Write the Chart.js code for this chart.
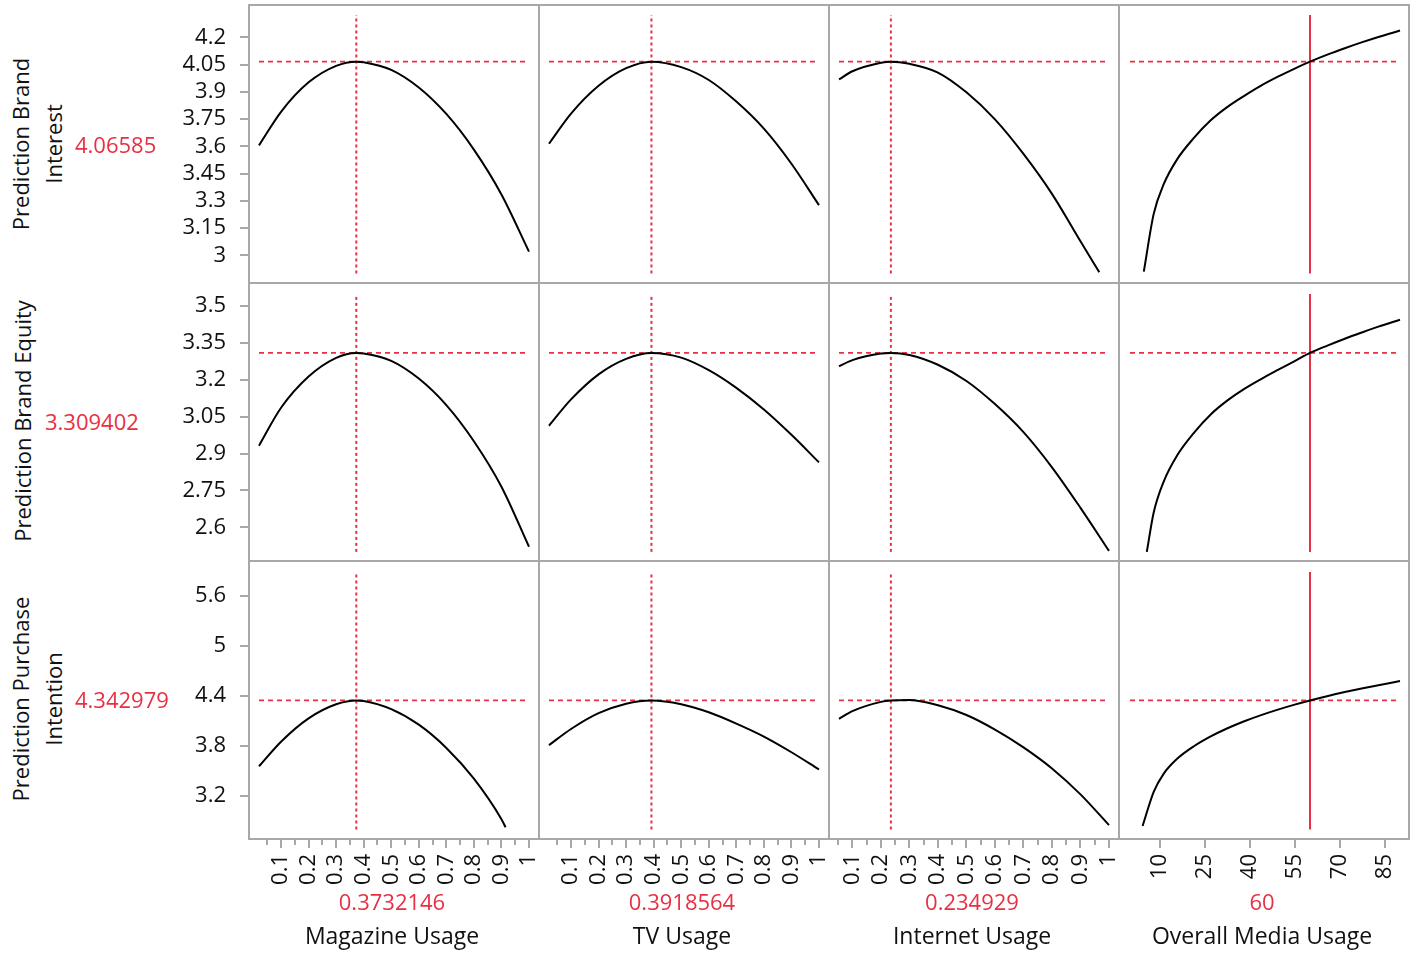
<!DOCTYPE html>
<html><head><meta charset="utf-8">
<script src="https://cdn.jsdelivr.net/npm/chart.js@4.4.1/dist/chart.umd.min.js"></script>
<style>
html,body{margin:0;padding:0;background:#fff;}
body{width:1412px;height:954px;position:relative;overflow:hidden;font-family:"Open Sans",sans-serif;}
canvas{position:absolute;}
.t{position:absolute;white-space:nowrap;font-size:22px;color:#111;line-height:1;}
.red{color:rgb(232,48,68);}
</style></head><body>
<script>
// ---------- factors (x) ----------
const factorNames = ["Magazine Usage","TV Usage","Internet Usage","Overall Media Usage"];
const factorCurrent = [0.3732146, 0.3918564, 0.234929, 60];
const factorCurrentLabels = ["0.3732146","0.3918564","0.234929","60"];
// ---------- responses (y) ----------
const responseNames = [["Prediction Brand","Interest"],["Prediction Brand Equity"],["Prediction Purchase","Intention"]];
const responseCurrent = [4.06585, 3.309402, 4.342979];
const responseCurrentLabels = ["4.06585","3.309402","4.342979"];
// ---------- tick values / labels ----------
const shareTickValues = [0.1,0.2,0.3,0.4,0.5,0.6,0.7,0.8,0.9,1];
const shareTickLabels = ["0.1","0.2","0.3","0.4","0.5","0.6","0.7","0.8","0.9","1"];
const shareMinorTicks = [0.05,0.15,0.25,0.35,0.45,0.55,0.65,0.75,0.85,0.95];
const overallTickValues = [10,25,40,55,70,85];
const overallTickLabels = ["10","25","40","55","70","85"];
const biTickValues = [3,3.15,3.3,3.45,3.6,3.75,3.9,4.05,4.2];
const biTickLabels = ["3","3.15","3.3","3.45","3.6","3.75","3.9","4.05","4.2"];
const beTickValues = [2.6,2.75,2.9,3.05,3.2,3.35,3.5];
const beTickLabels = ["2.6","2.75","2.9","3.05","3.2","3.35","3.5"];
const piTickValues = [3.2,3.8,4.4,5,5.6];
const piTickLabels = ["3.2","3.8","4.4","5","5.6"];
// ---------- profile curves ----------
const magX  = [0.02,0.1,0.2,0.3,0.3732,0.4,0.5,0.6,0.7,0.8,0.9,1.0];
const magBI = [3.605,3.790,3.952,4.043,4.066,4.063,4.021,3.924,3.778,3.582,3.335,3.020];
const magBE = [2.932,3.086,3.213,3.289,3.309,3.307,3.277,3.205,3.097,2.950,2.765,2.521];
const magPIx = [0.02,0.1,0.2,0.3,0.3732,0.4,0.5,0.6,0.7,0.8,0.9,0.915];
const magPI = [3.553,3.848,4.128,4.297,4.343,4.337,4.239,4.052,3.773,3.404,2.918,2.821];
const tvX  = [0.02,0.1,0.2,0.3,0.3919,0.5,0.6,0.7,0.8,0.9,1.0];
const tvBI = [3.614,3.780,3.933,4.030,4.066,4.036,3.965,3.846,3.697,3.504,3.276];
const tvBE = [3.013,3.120,3.222,3.285,3.309,3.290,3.239,3.167,3.079,2.976,2.864];
const tvPI = [3.806,4.000,4.190,4.304,4.343,4.298,4.201,4.065,3.909,3.721,3.514];
const intX  = [0.053,0.1,0.2,0.2349,0.3,0.4,0.5,0.6,0.7,0.8,0.9,1.0];
const intBIx = [0.053,0.1,0.2,0.2349,0.3,0.4,0.5,0.6,0.7,0.8,0.9,0.966];
const intBI = [3.968,4.013,4.060,4.066,4.054,4.006,3.897,3.748,3.558,3.338,3.077,2.907];
const intBE = [3.255,3.280,3.307,3.309,3.301,3.261,3.195,3.101,2.987,2.844,2.679,2.504];
const intPI = [4.123,4.215,4.326,4.343,4.349,4.285,4.168,3.993,3.780,3.527,3.216,2.847];
const ovBIx = [4.6,7.9,11.2,15.7,21.3,26.9,32.5,38.1,43.7,49.3,54.9,60,66,71.6,77.2,82.8,90];
const ovBI  = [2.91,3.228,3.39,3.528,3.646,3.743,3.817,3.878,3.934,3.983,4.028,4.066,4.106,4.140,4.172,4.202,4.237];
const ovBEx = [5.6,7.9,11.2,15.7,21.3,26.9,32.5,38.1,43.7,49.3,54.9,60,66,71.6,77.2,82.8,90];
const ovBE  = [2.50,2.66,2.785,2.892,2.984,3.059,3.116,3.163,3.203,3.240,3.276,3.309,3.340,3.367,3.392,3.416,3.444];
const ovPIx = [4.2,7.9,11.2,15.7,21.3,26.9,32.5,38.1,43.7,49.3,54.9,60,66,71.6,77.2,82.8,90];
const ovPI  = [2.836,3.247,3.462,3.642,3.793,3.911,4.009,4.093,4.167,4.233,4.293,4.343,4.397,4.443,4.486,4.526,4.575];

// ---------- assembly ----------
const curves = [
  [[magX,magBI],[tvX,tvBI],[intBIx,intBI],[ovBIx,ovBI]],
  [[magX,magBE],[tvX,tvBE],[intX,intBE],[ovBEx,ovBE]],
  [[magPIx,magPI],[tvX,tvPI],[intX,intPI],[ovPIx,ovPI]]
];
const RED = 'rgb(232,48,68)';
const GRAY = '#a8a8a8';
const FONT = {family:'"Open Sans", sans-serif', size:22};
const colsCfg = [
  {left:248,w:290,min:-0.0199,max:1.0327,lo:0.02,hi:1.0,ticks:shareTickValues,labels:shareTickLabels,minor:shareMinorTicks,solid:false},
  {left:538,w:290,min:-0.0199,max:1.0327,lo:0.02,hi:1.0,ticks:shareTickValues,labels:shareTickLabels,minor:shareMinorTicks,solid:false},
  {left:828,w:290,min:0.0144,max:1.0316,lo:0.053,hi:1.0,ticks:shareTickValues,labels:shareTickLabels,minor:shareMinorTicks,solid:false},
  {left:1118,w:292,min:-4,max:93.333,lo:0,hi:90,ticks:overallTickValues,labels:overallTickLabels,minor:[],solid:true}
];
const rowsCfg = [
  {top:4,h:278,min:2.853,max:4.3833,lo:2.9,hi:4.323,ticks:biTickValues,labels:biTickLabels},
  {top:282,h:278,min:2.467,max:3.5976,lo:2.5,hi:3.549,ticks:beTickValues,labels:beTickLabels},
  {top:560,h:280,min:2.668,max:6.0284,lo:2.794,hi:5.884,ticks:piTickValues,labels:piTickLabels}
];
const YAXW = 100, XAXH = 60;

function zeroPad(s){ s.paddingTop = 0; s.paddingBottom = 0; s.paddingLeft = 0; s.paddingRight = 0; }

const framePlugin = {
  id:'frame',
  afterDraw(chart, args, o){
    const {ctx, chartArea:a} = chart;
    ctx.save();
    ctx.fillStyle = GRAY;
    ctx.fillRect(a.left, a.top, 2, a.bottom-a.top);
    ctx.fillRect(a.left, a.top, a.right-a.left, 2);
    if (o.right) ctx.fillRect(a.right-2, a.top, 2, a.bottom-a.top);
    if (o.bottom) ctx.fillRect(a.left, a.bottom-2, a.right-a.left, 2);
    if (o.yTicks) {
      const s = chart.scales.y;
      o.yTicks.forEach(v => { const p = s.getPixelForValue(v); ctx.fillRect(a.left-8, Math.round(p)-1, 8, 2); });
    }
    if (o.xTicks) {
      const s = chart.scales.x;
      o.xTicks.forEach(v => { const p = s.getPixelForValue(v); ctx.fillRect(Math.round(p)-1, a.bottom, 2, 8); });
      o.xMinor.forEach(v => { const p = s.getPixelForValue(v); ctx.fillRect(Math.round(p)-1, a.bottom, 2, 5); });
    }
    ctx.restore();
  }
};

for (let r=0;r<3;r++){
  for (let c=0;c<4;c++){
    const R = rowsCfg[r], C = colsCfg[c];
    const showY = c===0, showX = r===2;
    const cv = document.createElement('canvas');
    const left = C.left - (showY?YAXW:0);
    const width = C.w + (showY?YAXW:0);
    const height = R.h + (showX?XAXH:0);
    cv.width = width; cv.height = height;
    cv.style.left = left+'px'; cv.style.top = R.top+'px';
    cv.style.width = width+'px'; cv.style.height = height+'px';
    document.body.appendChild(cv);
    const [xs, ys] = curves[r][c];
    const curX = factorCurrent[c], curY = responseCurrent[r];
    new Chart(cv, {
      type:'scatter',
      data:{datasets:[
        {data: xs.map((x,i)=>({x, y: ys[i]})), showLine:true, borderColor:'#000', borderWidth:2, pointRadius:0, cubicInterpolationMode:'monotone'},
        {data:[{x:C.lo,y:curY},{x:C.hi,y:curY}], showLine:true, borderColor:RED, borderWidth:1.8, borderDash:[5,4], pointRadius:0},
        {data:[{x:curX,y:R.lo},{x:curX,y:R.hi}], showLine:true, borderColor:RED, borderWidth:2, borderDash: C.solid?[]:[3,3], pointRadius:0}
      ]},
      options:{
        responsive:false, animation:false, devicePixelRatio:1,
        layout:{padding:0, autoPadding:false},
        plugins:{legend:{display:false}, tooltip:{enabled:false},
          frame:{right:c===3, bottom:r===2, yTicks: showY?R.ticks:null, xTicks: showX?C.ticks:null, xMinor: C.minor}},
        scales:{
          x:{type:'linear', min:C.min, max:C.max, display:showX,
             afterBuildTicks: s => { s.ticks = C.ticks.map(v=>({value:v})); },
             afterFit: s => { s.height = showX ? XAXH : 0; zeroPad(s); },
             ticks:{autoSkip:false, minRotation:90, maxRotation:90, padding:6, color:'#111', font:FONT, callback:(v,i)=>C.labels[i]},
             grid:{display:false, drawTicks:true, tickLength:8}, border:{display:false}},
          y:{type:'linear', min:R.min, max:R.max, display:showY,
             afterBuildTicks: s => { s.ticks = R.ticks.map(v=>({value:v})); },
             afterFit: s => { s.width = showY ? YAXW : 0; zeroPad(s); },
             ticks:{autoSkip:false, padding:14, color:'#111', font:FONT, callback:(v,i)=>R.labels[i]},
             grid:{display:false, drawTicks:true, tickLength:8}, border:{display:false}}
        }
      },
      plugins:[framePlugin]
    });
  }
}

// ---------- text ----------
function addText(html, cls, css){
  const d = document.createElement('div');
  d.className = 't ' + cls; d.innerHTML = html;
  Object.assign(d.style, css);
  document.body.appendChild(d);
}
const rowCenters = [144, 421, 699];
responseNames.forEach((lines, r) => {
  const two = lines.length > 1;
  addText(lines.join('<br>'), '', {left:(two?37:22)+'px', top:rowCenters[r]+'px', lineHeight:'33px', textAlign:'center',
    transform:'translate(-50%,-50%) rotate(-90deg)'});
  addText(responseCurrentLabels[r], 'red', {left:(two?75:45)+'px', top:rowCenters[r]+'px', transform:'translateY(-50%)'});
});
const colCenters = [392, 682, 972, 1262];
factorNames.forEach((n, c) => {
  addText(factorCurrentLabels[c], 'red', {left:colCenters[c]+'px', top:'901px', transform:'translate(-50%,-50%)'});
  addText(n, '', {left:colCenters[c]+'px', top:'935px', fontSize:'23px', transform:'translate(-50%,-50%)'});
});
</script>
</body></html>
